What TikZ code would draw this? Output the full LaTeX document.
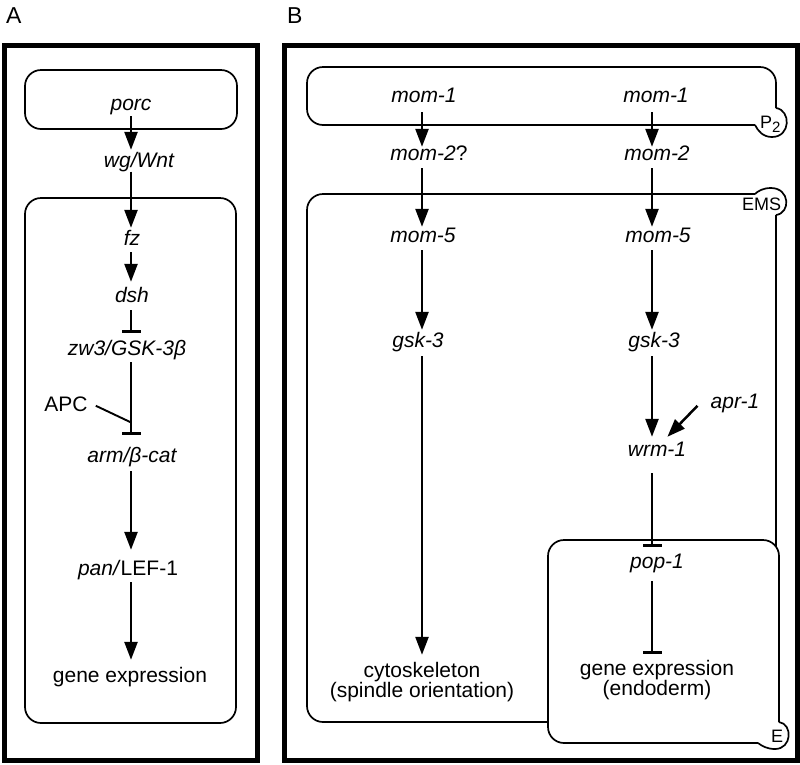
\documentclass[tikz,border=0pt]{standalone}
\usepackage{fontspec}
\setmainfont{Liberation Sans}
\usetikzlibrary{arrows.meta,calc}
\begin{document}
\begin{tikzpicture}[x=1pt,y=-1pt,
  lbl/.style={font=\fontsize{21}{22}\selectfont, inner sep=0pt, text height=15pt, text depth=4.5pt, anchor=base},
  tag/.style={font=\fontsize{18}{18}\selectfont, inner sep=0pt, anchor=base west},
  panel/.style={font=\fontsize{23}{23}\selectfont, inner sep=0pt, anchor=base west},
  conn/.style={line width=2.5pt},
  arr/.style={conn, -{Triangle[width=13pt,length=18pt]}},
  inh/.style={conn, -{Bar[width=19pt]}},
  box/.style={line width=1.7pt, rounded corners=16pt},
  boxline/.style={line width=1.7pt},
  outer/.style={line width=5pt}]
\useasboundingbox (0,0) rectangle (800,764);
\fill[white] (0,0) rectangle (800,764);

% ---------------- Panel A ----------------
\node[panel] (labA) at (6,23) {A};
\draw[outer] (4,45) rectangle (257,760);
\draw[box] (25,70) rectangle (237,129);
\draw[box] (25,198) rectangle (236,723);

\coordinate (colA) at (131,0);
\node[lbl] (porc) at (131,110) {\itshape porc};
\node[lbl] (wg) at (139,167) {\itshape wg/Wnt};
\node[lbl] (fz) at (132,245) {\itshape fz};
\node[lbl] (dsh) at (132,302) {\itshape dsh};
\node[lbl] (zw3) at (127,355) {\itshape zw3/GSK-3β};
\node[lbl] (APC) at (66,411) {APC};
\node[lbl] (arm) at (132,462) {\itshape arm/β-cat};
\node[lbl] (pan) at (128,575) {\textit{pan/}LEF-1};
\node[lbl] (geneA) at (130,682) {gene expression};

\draw[arr, shorten <=1.5pt, shorten >=2pt] (porc.south -| colA) -- (wg.north -| colA);
\draw[arr, shorten >=2pt] (wg.south -| colA) -- (fz.north -| colA);
\draw[arr, shorten <=2.5pt, shorten >=5pt] (fz.south -| colA) -- (dsh.north -| colA);
\draw[inh, shorten <=3.5pt, shorten >=7pt] (dsh.south -| colA) -- (zw3.north -| colA);
\draw[inh, shorten <=2.5pt, shorten >=12pt] (zw3.south -| colA) -- (arm.north -| colA);
\draw[conn, line width=1.9pt] ($(APC.east)+(8,0)$) -- ($(zw3.south -| colA)!0.72!(arm.north -| colA)$);
\draw[arr, shorten <=4.5pt, shorten >=10pt] (arm.south -| colA) -- (pan.north -| colA);
\draw[arr, shorten <=2.5pt, shorten >=7pt] (pan.south -| colA) -- (geneA.north -| colA);

% ---------------- Panel B ----------------
\node[panel] (labB) at (287,23) {B};
\draw[outer] (284,45) rectangle (797,760);

% P2 box
\draw[box] (755,125) -- (307,125) -- (307,67) -- (776,67) -- (776,108);
\draw[boxline] (776,108) .. controls (791,110) and (791,137) .. (772,137) .. controls (763,137) and (758,131) .. (755,125);
\node[tag] (P2) at (760,128) {P\raisebox{-4pt}{\fontsize{15}{15}\selectfont 2}};

% EMS box
\draw[box] (755,194) -- (307,194) -- (307,722) -- (776,722) -- (776,215);
\draw[boxline] (776,215) .. controls (791,213) and (790,188) .. (771,188) .. controls (763,188) and (758,191) .. (755,194);
\node[tag] (EMS) at (742,210) {EMS};

% E box
\fill[white, rounded corners=16pt] (548,540) rectangle (779,743);
\draw[box] (758,743) -- (548,743) -- (548,540) -- (779,540) -- (779,722);
\draw[boxline] (779,722) .. controls (793,724) and (792,749) .. (775,749) .. controls (767,749) and (762,746) .. (758,743);
\node[tag] (E) at (771,742) {E};

\coordinate (colL) at (422,0);
\coordinate (colR) at (652,0);

\node[lbl] (m1L) at (424,102) {\itshape mom-1};
\node[lbl] (m1R) at (656,102) {\itshape mom-1};
\node[lbl] (m2L) at (429,160) {\textit{mom-2}?};
\node[lbl] (m2R) at (657,160) {\itshape mom-2};
\node[lbl] (m5L) at (423,242) {\itshape mom-5};
\node[lbl] (m5R) at (658,242) {\itshape mom-5};
\node[lbl] (gL) at (418,347) {\itshape gsk-3};
\node[lbl] (gR) at (654,347) {\itshape gsk-3};
\node[lbl] (apr) at (735,408) {\itshape apr-1};
\node[lbl] (wrm) at (657,456) {\itshape wrm-1};
\node[lbl] (pop) at (657,568) {\itshape pop-1};
\node[lbl] (geneE) at (657,675) {gene expression};
\node[lbl] (endo) at (657,695) {(endoderm)};
\node[lbl] (cyto) at (422,677) {cytoskeleton};
\node[lbl] (spin) at (422,697) {(spindle orientation)};

\draw[arr, shorten <=5.5pt, shorten >=-2pt] (m1L.south -| colL) -- (m2L.north -| colL);
\draw[arr, shorten <=5.5pt, shorten >=-2pt] (m1R.south -| colR) -- (m2R.north -| colR);
\draw[arr, shorten <=3.5pt] (m2L.south -| colL) -- (m5L.north -| colL);
\draw[arr, shorten <=3.5pt] (m2R.south -| colR) -- (m5R.north -| colR);
\draw[arr, shorten <=3.5pt, shorten >=2pt] (m5L.south -| colL) -- (gL.north -| colL);
\draw[arr, shorten <=3.5pt, shorten >=2pt] (m5R.south -| colR) -- (gR.north -| colR);
\draw[arr, shorten <=4.5pt, shorten >=7pt] (gL.south -| colL) -- (cyto.north -| colL);
\draw[arr, shorten <=4.5pt, shorten >=4pt] (gR.south -| colR) -- (wrm.north -| colR);
\draw[arr] ($(apr.west)+(-13,3)$) -- ($(wrm.north east)+(-19,-4)$);
\draw[inh, shorten <=12.5pt, shorten >=6pt] (wrm.south -| colR) -- (pop.north -| colR);
\draw[inh, shorten <=8.5pt, shorten >=6pt] (pop.south -| colR) -- (geneE.north -| colR);
\end{tikzpicture}
\end{document}
